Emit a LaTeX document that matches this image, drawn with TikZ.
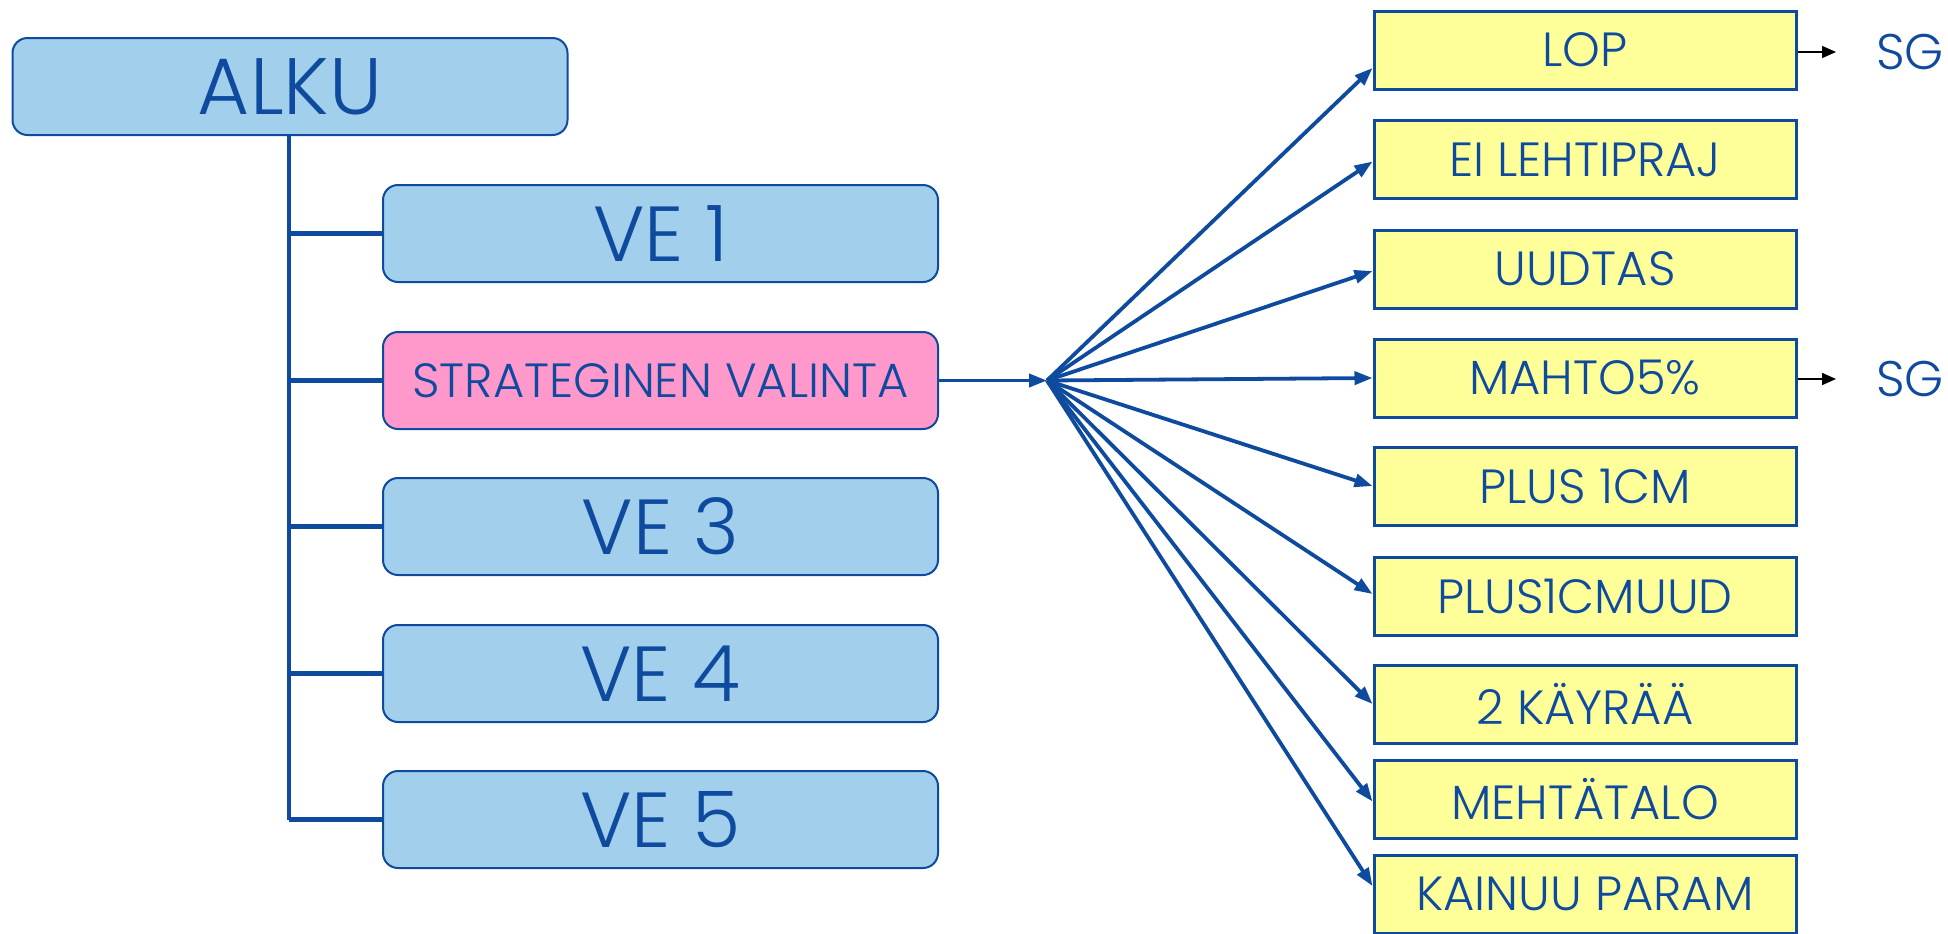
\documentclass[tikz,border=0pt]{standalone}
\usepackage{fontspec}
\setmainfont{Poppins Light}
\usetikzlibrary{arrows.meta}
\definecolor{dblue}{RGB}{14,74,158}
\definecolor{lblue}{RGB}{162,207,236}
\definecolor{pinkf}{RGB}{255,153,204}
\definecolor{yellf}{RGB}{255,255,153}
\tikzset{
  bluebox/.style={draw=dblue, line width=1pt, fill=lblue, rounded corners=7.5pt,
    minimum width=277.5pt, minimum height=48.5pt, text=dblue, inner sep=0pt},
  pinkbox/.style={bluebox, fill=pinkf},
  yelbox/.style={draw=dblue, line width=1.5pt, fill=yellf, minimum width=211pt,
    minimum height=39pt, text=dblue, inner sep=0pt, font=\fontsize{24}{26}\selectfont},
  trunk/.style={draw=dblue, line width=2.3pt},
  fan/.style={draw=dblue, line width=1.9pt, -{Triangle[length=9pt,width=6.5pt]}},
  sgarrow/.style={draw=black, line width=0.8pt, -{Triangle[length=7pt,width=6pt]}},
  sglabel/.style={text=dblue, font=\fontsize{25}{27}\selectfont, inner sep=0pt}
}
\begin{document}
\begin{tikzpicture}[x=0.5pt,y=-0.5pt]
\useasboundingbox (0,0) rectangle (1948,933);
% left column
\node[bluebox, font=\fontsize{40}{42}\selectfont] (alku) at (290,86.5) {ALKU};
\node[bluebox, font=\fontsize{39}{41}\selectfont] (ve1) at (660.5,233.5) {VE 1};
\node[pinkbox, font=\fontsize{24}{26}\selectfont] (strat) at (660.5,380.5) {STRATEGINEN VALINTA};
\node[bluebox, font=\fontsize{39}{41}\selectfont] (ve3) at (660.5,526.5) {VE 3};
\node[bluebox, font=\fontsize{39}{41}\selectfont] (ve4) at (660.5,673.5) {VE 4};
\node[bluebox, font=\fontsize{39}{41}\selectfont] (ve5) at (660.5,819.5) {VE 5};
\coordinate (tbot) at (289,819.5);
\draw[trunk] (alku.south -| tbot) -- (tbot);
\foreach \n in {ve1,strat,ve3,ve4,ve5}{
  \draw[trunk] (\n.west -| tbot) -- (\n.west);
}
% hub
\coordinate (hub) at (1047,380.5);
\draw[fan] (strat.east) -- (hub);
% right column
\node[yelbox] (lop) at (1585,50) {LOP};
\node[yelbox] (ei) at (1585,159.5) {EI LEHTIPRAJ};
\node[yelbox] (uud) at (1585,269) {UUDTAS};
\node[yelbox] (mahto) at (1585,378) {MAHTO5\%};
\node[yelbox] (plus) at (1585,486) {PLUS 1CM};
\node[yelbox] (plusu) at (1585,596) {PLUS1CMUUD};
\node[yelbox] (kay) at (1585,704) {2 KÄYRÄÄ};
\node[yelbox] (meh) at (1585,799.5) {MEHTÄTALO};
\node[yelbox] (kai) at (1585,894) {KAINUU PARAM};
\draw[fan] (hub) -- ([yshift=-9pt]lop.west);
\draw[fan] (hub) -- ([yshift=-1pt]ei.west);
\draw[fan] (hub) -- ([yshift=-1pt]uud.west);
\draw[fan] (hub) -- (mahto.west);
\draw[fan] (hub) -- (plus.west);
\draw[fan] (hub) -- ([yshift=1pt]plusu.west);
\draw[fan] (hub) -- ([yshift=0pt]kay.west);
\draw[fan] (hub) -- ([yshift=-1pt]meh.west);
\draw[fan] (hub) -- ([yshift=4pt]kai.west);
% SG
\node[sglabel] (sg1) at (1910,52) {SG};
\node[sglabel] (sg2) at (1910,379) {SG};
\coordinate (sg1a) at (1836,52);
\coordinate (sg2a) at (1836,379);
\draw[sgarrow] (lop.east |- sg1a) -- (sg1a);
\draw[sgarrow] (mahto.east |- sg2a) -- (sg2a);
\end{tikzpicture}
\end{document}
